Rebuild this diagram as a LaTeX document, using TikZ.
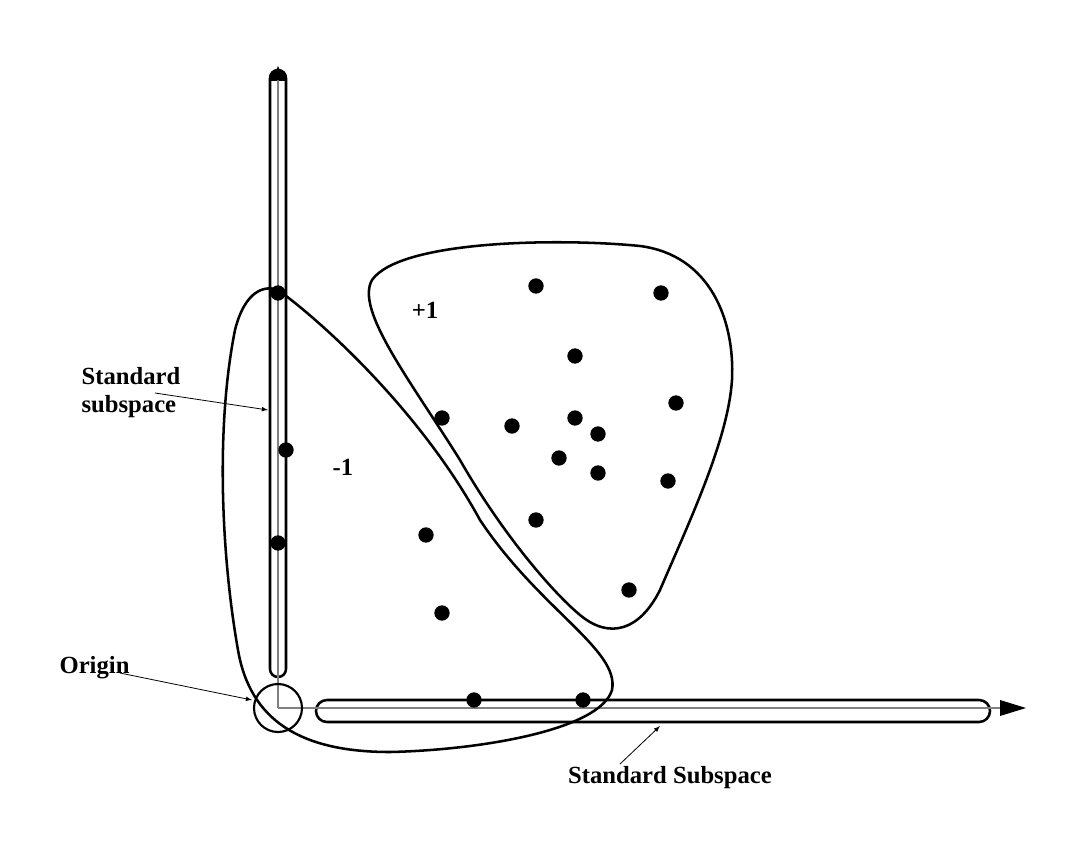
\documentclass[tikz,border=0pt]{standalone}
\usepackage{fontspec}
\setmainfont{Liberation Serif}
\begin{document}
\begin{tikzpicture}[x=0.75pt,y=-0.75pt,
  dot/.style={circle,fill=black,inner sep=0pt,minimum size=11.5pt},
  lab/.style={font=\bfseries\fontsize{18.5}{21}\selectfont,inner sep=1pt},
  ln/.style={line width=1.9pt},
  ax/.style={gray,line width=0.8pt},
  pt/.style={-latex,line width=0.6pt}]
\useasboundingbox (0,0) rectangle (1086,851);
\coordinate (O) at (278,708);
\coordinate (Ytop) at (278,68);
\draw[ln,rounded corners=6pt] (270,70) rectangle (286,677);
\begin{scope}
\clip (260,60) rectangle (296,80);
\fill[rounded corners=6pt] (270,70) rectangle (286,100);
\end{scope}
\draw[ax] (O) -- (Ytop);
\fill (278,66) -- (272,80) -- (284,80) -- cycle;
\draw[ln,rounded corners=8.2pt] (316,700) rectangle (990,722);
\draw[ax] (O) -- (1000,708);
\fill (1026,708) -- (1000,700) -- (1000,716) -- cycle;
\draw[line width=1.6pt] (O) circle (24);
% -1 blob
\draw[ln] (278,290) .. controls (320,320) and (420,410) .. (480,520)
  .. controls (540,610) and (620,650) .. (612,690)
  .. controls (600,730) and (480,750) .. (390,752)
  .. controls (300,752) and (250,720) .. (238,650)
  .. controls (222,560) and (215,430) .. (235,330)
  .. controls (245,290) and (265,285) .. (278,290);
% +1 blob
\draw[ln] (372,280) .. controls (400,240) and (560,238) .. (640,246)
  .. controls (710,255) and (735,320) .. (732,380)
  .. controls (728,440) and (690,520) .. (660,590)
  .. controls (640,630) and (610,640) .. (580,615)
  .. controls (550,590) and (500,530) .. (460,460)
  .. controls (410,380) and (355,310) .. (372,280);
\foreach \n/\x/\y in {a/536/286,b/661/293,c/575/356,d/442/418,e/512/426,f/575/418,g/598/434,h/676/403,i/559/458,j/598/473,k/668/481,l/536/520,m/426/535,n/629/590,o/442/613,p/474/700,q/583/700,r/278/293,s/286/450,t/278/543}
  \node[dot] (\n) at (\x,\y) {};
\node[lab] (pl) at (425,310) {+1};
\node[lab] (mi) at (343,467) {-1};
\node[lab,align=left,anchor=west] (ss) at (80,393) {Standard\\subspace};
\coordinate (ssE) at (268,410);
\draw[pt] (155,393) -- (ssE);
\node[lab,anchor=west] (or) at (58,668) {Origin};
\coordinate (orE) at (252,700);
\draw[pt] (120,673) -- (orE);
\node[lab] (SS) at (670,778) {Standard Subspace};
\coordinate (SSE) at (660,726);
\draw[pt] (620,764) -- (SSE);
\end{tikzpicture}
\end{document}
